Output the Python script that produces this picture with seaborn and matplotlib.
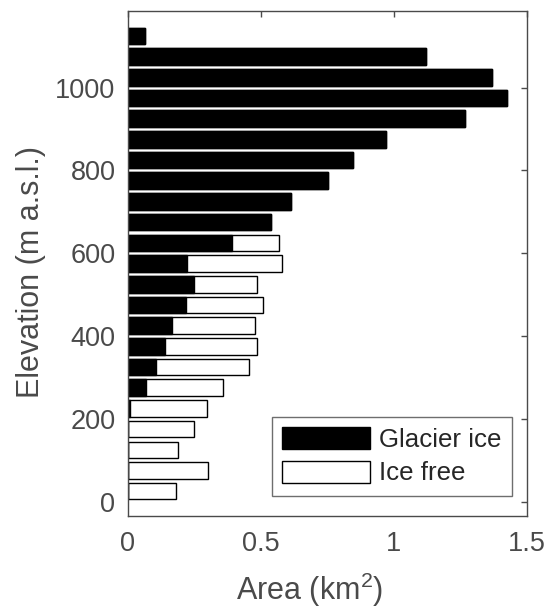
import matplotlib
matplotlib.use("Agg")
import matplotlib.pyplot as plt
import matplotlib.patches as mpatches
import seaborn as sns
import pandas as pd

# elevation bin centres (m a.s.l.), 50 m bins
elevation = [25, 75, 125, 175, 225, 275, 325, 375, 425, 475, 525, 575,
             625, 675, 725, 775, 825, 875, 925, 975, 1025, 1075, 1125]
# glacier ice area per bin (km2)
glacier = [0.0, 0.0, 0.0, 0.0, 0.009, 0.068, 0.107, 0.139, 0.164, 0.217, 0.249, 0.221,
           0.391, 0.538, 0.614, 0.753, 0.845, 0.969, 1.266, 1.425, 1.368, 1.120, 0.063]
# ice free area per bin (km2)
ice_free = [0.182, 0.302, 0.187, 0.247, 0.287, 0.290, 0.349, 0.347, 0.312, 0.289, 0.235, 0.357,
            0.175, 0.0, 0.0, 0.0, 0.0, 0.0, 0.0, 0.0, 0.0, 0.0, 0.0]

df = pd.DataFrame({"elev": elevation, "glacier": glacier, "free": ice_free})
df["total"] = df["glacier"] + df["free"]

sns.set_style("white")
plt.rcParams["font.family"] = ["Liberation Sans", "DejaVu Sans"]
plt.rcParams["mathtext.fontset"] = "custom"
plt.rcParams["mathtext.rm"] = "Liberation Sans"
grey = "#4a4a4a"

fig = plt.figure(figsize=(5.51, 6.13), dpi=100)
ax = fig.add_axes([0.2323, 0.1582, 0.7241, 0.8238])

# total bar (white, outlined) then glacier part in black on top
sns.barplot(data=df, x="total", y="elev", orient="h", native_scale=True,
            color="white", edgecolor="black", linewidth=1, saturation=1, ax=ax)
sns.barplot(data=df, x="glacier", y="elev", orient="h", native_scale=True,
            color="black", edgecolor="black", linewidth=1, saturation=1, ax=ax)

ax.set_xlim(0, 1.5)
ax.set_ylim(-35, 1185)
ax.set_xticks([0, 0.5, 1, 1.5])
ax.set_xticklabels(["0", "0.5", "1", "1.5"])
ax.set_yticks([0, 200, 400, 600, 800, 1000])
ax.tick_params(direction="in", length=4, width=1, colors=grey, labelsize=19.5,
               top=True, right=True)
ax.tick_params(axis="x", pad=11)
ax.tick_params(axis="y", pad=9)
for s in ax.spines.values():
    s.set_visible(True)
    s.set_color(grey)
    s.set_linewidth(1)

ax.set_xlabel(r"Area (km$^{\mathrm{2}}$)", fontsize=22, color=grey)
ax.set_ylabel("Elevation (m a.s.l.)", fontsize=22, color=grey)
ax.xaxis.set_label_coords(0.456, -0.108)
ax.yaxis.set_label_coords(-0.205, 0.484)

handles = [mpatches.Patch(facecolor="black", edgecolor="black", label="Glacier ice"),
           mpatches.Patch(facecolor="white", edgecolor="black", label="Ice free")]
leg = ax.legend(handles=handles, loc="lower right", bbox_to_anchor=(0.962, 0.04),
                fontsize=18.6, frameon=True, fancybox=False, handlelength=3.4,
                handleheight=0.93, handletextpad=0.35, labelspacing=0.34,
                borderpad=0.4, borderaxespad=0)
leg.get_frame().set_edgecolor(grey)
leg.get_frame().set_linewidth(1)

fig.savefig("out.png", dpi=100)
